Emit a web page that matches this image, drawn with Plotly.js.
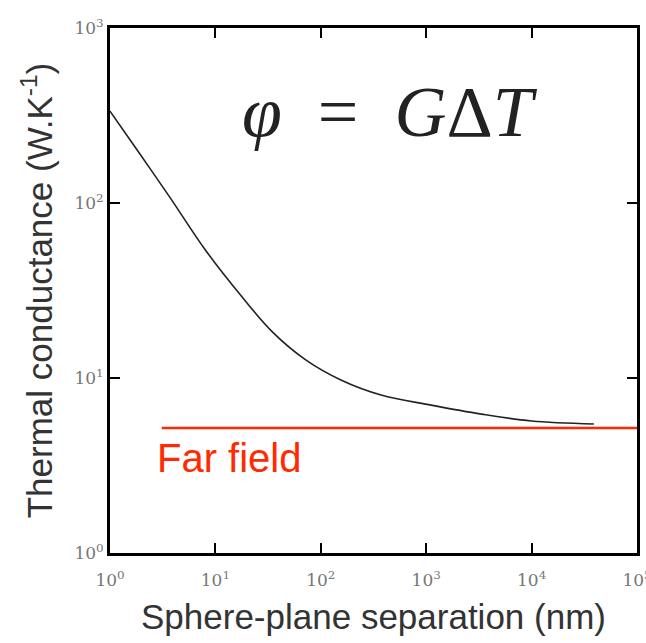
<!DOCTYPE html>
<html><head><meta charset="utf-8">
<script src="https://cdn.plot.ly/plotly-3.0.1.min.js"></script>
<style>html,body{margin:0;padding:0;background:#fff;}#plot{width:646px;height:643px;}</style>
</head><body><div id="plot"></div>
<script>
// Data
const separation = [1, 1.93, 3.73, 8.03, 17.3, 34.9, 71.9, 155, 373, 1116, 3340, 10000, 38960];
const conductance = [335, 190, 107, 53.9, 29.8, 18.3, 12.7, 9.75, 8.0, 7.0, 6.22, 5.68, 5.46];
const farFieldX = [3.1, 100000];
const farFieldY = [5.18, 5.18];
const tickVals = [1, 10, 100, 1000, 10000, 100000];
const xTickText = ['10<sup>0</sup>', '10<sup>1</sup>', '10<sup>2</sup>', '10<sup>3</sup>', '10<sup>4</sup>', '10<sup>5</sup>'];
const yTickVals = [1, 10, 100, 1000];
const yTickText = ['10<sup>0</sup>', '10<sup>1</sup>', '10<sup>2</sup>', '10<sup>3</sup>'];

const traces = [
  {x: separation, y: conductance, type: 'scatter', mode: 'lines', line: {color: '#222', width: 1.6, shape: 'spline', smoothing: 1}, hoverinfo: 'skip'},
  {x: farFieldX, y: farFieldY, type: 'scatter', mode: 'lines', line: {color: '#ff2a00', width: 2.5}, hoverinfo: 'skip'}
];

const axisCommon = {
  type: 'log', showgrid: false, zeroline: false,
  showline: true, linecolor: '#000', linewidth: 3, mirror: 'ticks',
  ticks: 'inside', ticklen: 10, tickwidth: 2, tickcolor: '#000',
  ticklabeloverflow: 'allow',
  tickfont: {family: 'DejaVu Serif, Liberation Serif, serif', size: 17, color: '#777'}
};

const layout = {
  width: 646, height: 643,
  margin: {l: 110, r: 9, t: 28, b: 90},
  paper_bgcolor: '#fff', plot_bgcolor: '#fff',
  showlegend: false,
  xaxis: Object.assign({}, axisCommon, {
    range: [0, 5], tickvals: tickVals, ticktext: xTickText, ticklabelstandoff: 10,
    title: {text: 'Sphere-plane separation (nm)', font: {family: 'Liberation Sans, Arial, sans-serif', size: 35, color: '#333'}, standoff: 16}
  }),
  yaxis: Object.assign({}, axisCommon, {
    range: [0, 3], tickvals: yTickVals, ticktext: yTickText,
    title: {text: 'Thermal conductance (W.K<sup>-1</sup>)', font: {family: 'Liberation Sans, Arial, sans-serif', size: 35, color: '#333'}, standoff: 12}
  }),
  annotations: [
    {x: 0.531, y: 0.92, xref: 'paper', yref: 'paper', showarrow: false,
     text: '<i>φ</i>&nbsp;&nbsp;=&nbsp;&nbsp;<i>G</i>Δ<i>T</i>', font: {family: 'Liberation Serif, DejaVu Serif, serif', size: 72, color: '#222'}},
    {x: 0.085, y: 0.135, xref: 'paper', yref: 'paper', xanchor: 'left', showarrow: false,
     text: 'Far field', font: {family: 'Liberation Sans, Arial, sans-serif', size: 40, color: '#ff2a00'}}
  ]
};

Plotly.newPlot('plot', traces, layout, {displayModeBar: false, staticPlot: true});
</script>
</body></html>
